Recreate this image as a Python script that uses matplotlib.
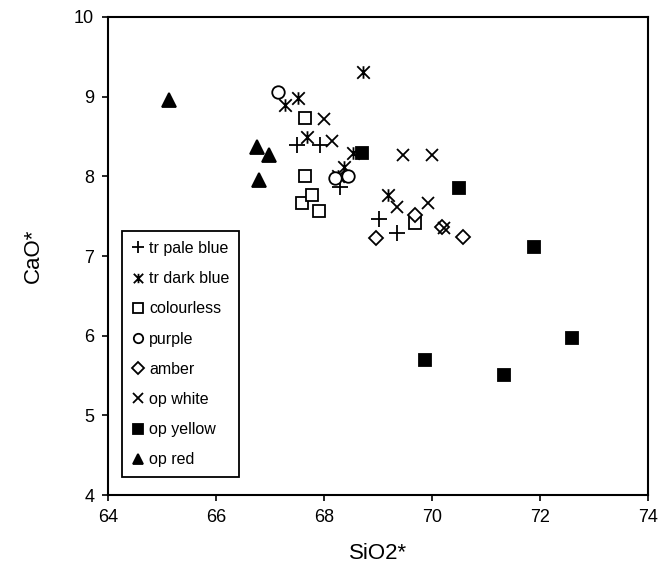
import matplotlib.pyplot as plt
from matplotlib.path import Path

plt.rcParams['font.family'] = ['Liberation Sans', 'DejaVu Sans']

# SiO2* / CaO* values, one pair of lists per glass colour
pale_blue_x = [67.49, 67.93, 68.30, 69.01, 69.35]
pale_blue_y = [8.39, 8.39, 7.87, 7.47, 7.29]

dark_blue_x = [68.73, 67.52, 67.28, 67.68, 68.54, 68.36, 68.25, 69.19]
dark_blue_y = [9.31, 8.98, 8.90, 8.49, 8.29, 8.12, 8.00, 7.77]

colourless_x = [67.65, 67.65, 67.60, 67.77, 67.90, 69.69]
colourless_y = [8.73, 8.00, 7.67, 7.77, 7.57, 7.41]

purple_x = [67.15, 68.20, 68.45]
purple_y = [9.06, 7.98, 8.00]

amber_x = [68.97, 69.69, 70.18, 70.58]
amber_y = [7.22, 7.52, 7.37, 7.24]

white_x = [68.00, 68.14, 69.46, 69.99, 69.35, 69.93, 70.22]
white_y = [8.72, 8.44, 8.27, 8.27, 7.62, 7.66, 7.35]

yellow_x = [68.70, 70.49, 71.89, 72.60, 69.86, 71.34]
yellow_y = [8.29, 7.85, 7.11, 5.97, 5.69, 5.51]

red_x = [65.12, 66.76, 66.98, 66.80]
red_y = [8.96, 8.37, 8.27, 7.95]

# "Ж" shaped marker for the dark blue glass: an x with a vertical bar
zhe = Path([(-1, -1), (1, 1), (-1, 1), (1, -1), (0, -1), (0, 1)],
           [Path.MOVETO, Path.LINETO, Path.MOVETO, Path.LINETO, Path.MOVETO, Path.LINETO])

fig = plt.figure(figsize=(6.63, 5.76), dpi=100)
ax = fig.add_axes([0.163, 0.1406, 0.8145, 0.8299])

kw = dict(linestyle='none', color='black', markeredgewidth=1.3)
ax.plot(pale_blue_x, pale_blue_y, marker='+', markersize=11, label='tr pale blue', **kw)
ax.plot(dark_blue_x, dark_blue_y, marker=zhe, markersize=9, label='tr dark blue', **kw)
ax.plot(colourless_x, colourless_y, marker='s', markersize=9, markerfacecolor='white', label='colourless', **kw)
ax.plot(purple_x, purple_y, marker='o', markersize=9, markerfacecolor='white', label='purple', **kw)
ax.plot(amber_x, amber_y, marker='D', markersize=7.5, markerfacecolor='white', label='amber', **kw)
ax.plot(white_x, white_y, marker='x', markersize=9, label='op white', **kw)
ax.plot(yellow_x, yellow_y, marker='s', markersize=9, label='op yellow', **kw)
ax.plot(red_x, red_y, marker='^', markersize=10, label='op red', **kw)

ax.set_xlim(64, 74)
ax.set_ylim(4, 10)
ax.set_xticks([64, 66, 68, 70, 72, 74])
ax.set_yticks([4, 5, 6, 7, 8, 9, 10])
ax.tick_params(direction='out', length=4, width=1.2, labelsize=13, pad=6)
for s in ax.spines.values():
    s.set_linewidth(1.5)

ax.set_xlabel('SiO2*', fontsize=16, labelpad=12)
ax.set_ylabel('CaO*', fontsize=16, labelpad=22)

leg = ax.legend(loc='lower left', bbox_to_anchor=(0.026, 0.038), borderaxespad=0,
                fontsize=11.5, markerscale=0.75, handlelength=0.8, handletextpad=0.3,
                labelspacing=0.95, borderpad=0.6, fancybox=False,
                edgecolor='black', framealpha=1)
leg.get_frame().set_linewidth(1.3)

plt.savefig('out.png', dpi=100)
